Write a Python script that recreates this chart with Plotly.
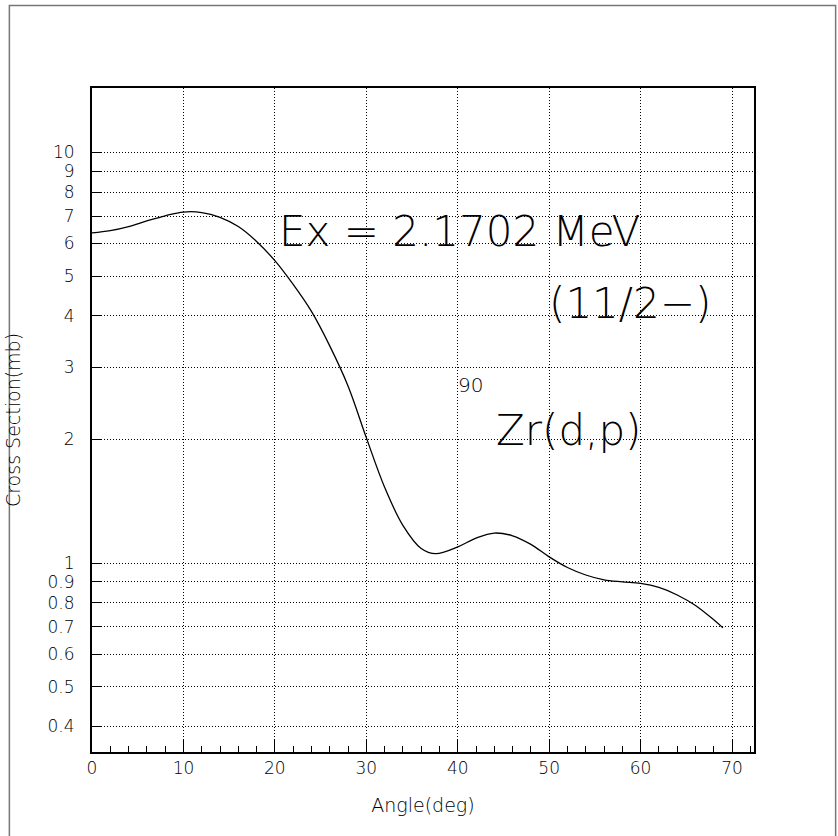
import plotly.graph_objects as go

# ---- data ----
angle_deg = [0, 2, 4, 6, 8, 10, 12, 14, 16, 18, 20, 22, 24, 26, 28, 30, 32, 34, 36, 37.6,
             40, 42, 44, 46, 48, 50, 52, 54, 56, 58, 60, 62, 64, 66, 68, 69]
cross_section_mb = [6.37, 6.45, 6.60, 6.81, 7.01, 7.16, 7.14, 6.95, 6.60, 6.07, 5.45, 4.77, 4.10,
                    3.38, 2.70, 2.02, 1.53, 1.235, 1.085, 1.054, 1.095, 1.15, 1.183, 1.165, 1.11,
                    1.035, 0.975, 0.935, 0.91, 0.90, 0.892, 0.872, 0.836, 0.788, 0.727, 0.695]
y_tick_vals = [0.4, 0.5, 0.6, 0.7, 0.8, 0.9, 1, 2, 3, 4, 5, 6, 7, 8, 9, 10]
y_tick_text = ["0.4", "0.5", "0.6", "0.7", "0.8", "0.9", "1", "2", "3", "4", "5", "6", "7", "8", "9", "10"]
x_tick_vals = [0, 10, 20, 30, 40, 50, 60, 70]

W, H = 838, 836
L, R, T, B = 89.5, 754.5, 88, 752
FONT = "DejaVu Sans"
WT = 200
GRID_DASH = "1px,2px"

fig = go.Figure()
fig.add_trace(go.Scatter(x=angle_deg, y=cross_section_mb, mode="lines",
                         line=dict(color="black", width=1.3, shape="spline", smoothing=1.0),
                         showlegend=False, hoverinfo="skip"))

def px(xp):
    return (xp - L) / (R - L)

def py(yp):
    return (B - yp) / (B - T)

fig.update_layout(
    width=W, height=H,
    margin=dict(l=L, r=W - R, t=T, b=H - B, pad=0),
    paper_bgcolor="white", plot_bgcolor="white",
    font=dict(family=FONT, color="black", size=16, weight=WT),
    xaxis=dict(range=[0, 72.4], tickvals=x_tick_vals, ticks="inside", ticklen=12,
               tickcolor="black", showline=True, linecolor="black", linewidth=1.5,
               mirror=True, showgrid=True, gridcolor="black", griddash=GRID_DASH, gridwidth=1,
               zeroline=False, tickfont=dict(size=17, family=FONT, weight=WT, color="black"),
               minor=dict(dtick=2, ticks="inside", ticklen=6, tickcolor="black", showgrid=False),
               title=dict(text="Angle(deg)", font=dict(size=19, family=FONT, weight=WT, color="black"),
                          standoff=22)),
    yaxis=dict(type="log", range=[-0.4603, 1.157], tickvals=y_tick_vals, ticktext=y_tick_text,
               ticks="inside", ticklen=10, tickcolor="black", showline=True, linecolor="black",
               linewidth=2, mirror=True, showgrid=True, gridcolor="black", griddash=GRID_DASH,
               gridwidth=1, zeroline=False,
               tickfont=dict(size=17, family=FONT, weight=WT, color="black"),
               ticklabelstandoff=12,
               title=dict(text="Cross Section(mb)", font=dict(size=19, family=FONT, weight=WT, color="black"),
                          standoff=22)),
    shapes=[dict(type="rect", xref="paper", yref="paper",
                 x0=px(6.5), x1=px(836.5), y0=py(840), y1=py(5.5),
                 line=dict(color="#777777", width=1.5), layer="below")],
    annotations=[
        dict(text="Ex = 2.1702 MeV", x=px(275), y=py(231), xref="paper", yref="paper",
             xanchor="left", yanchor="middle", showarrow=False, font=dict(size=42, family=FONT, weight=WT)),
        dict(text="(11/2−)", x=px(547), y=py(303), xref="paper", yref="paper",
             xanchor="left", yanchor="middle", showarrow=False, font=dict(size=42, family=FONT, weight=WT)),
        dict(text="90", x=px(455), y=py(385), xref="paper", yref="paper",
             xanchor="left", yanchor="middle", showarrow=False, font=dict(size=20, family=FONT, weight=WT)),
        dict(text="Zr(d,p)", x=px(493), y=py(430), xref="paper", yref="paper",
             xanchor="left", yanchor="middle", showarrow=False, font=dict(size=42, family=FONT, weight=WT)),
    ],
)

fig.write_html("out.html", config={"displayModeBar": False},
               post_script="document.body.style.margin='0';")
